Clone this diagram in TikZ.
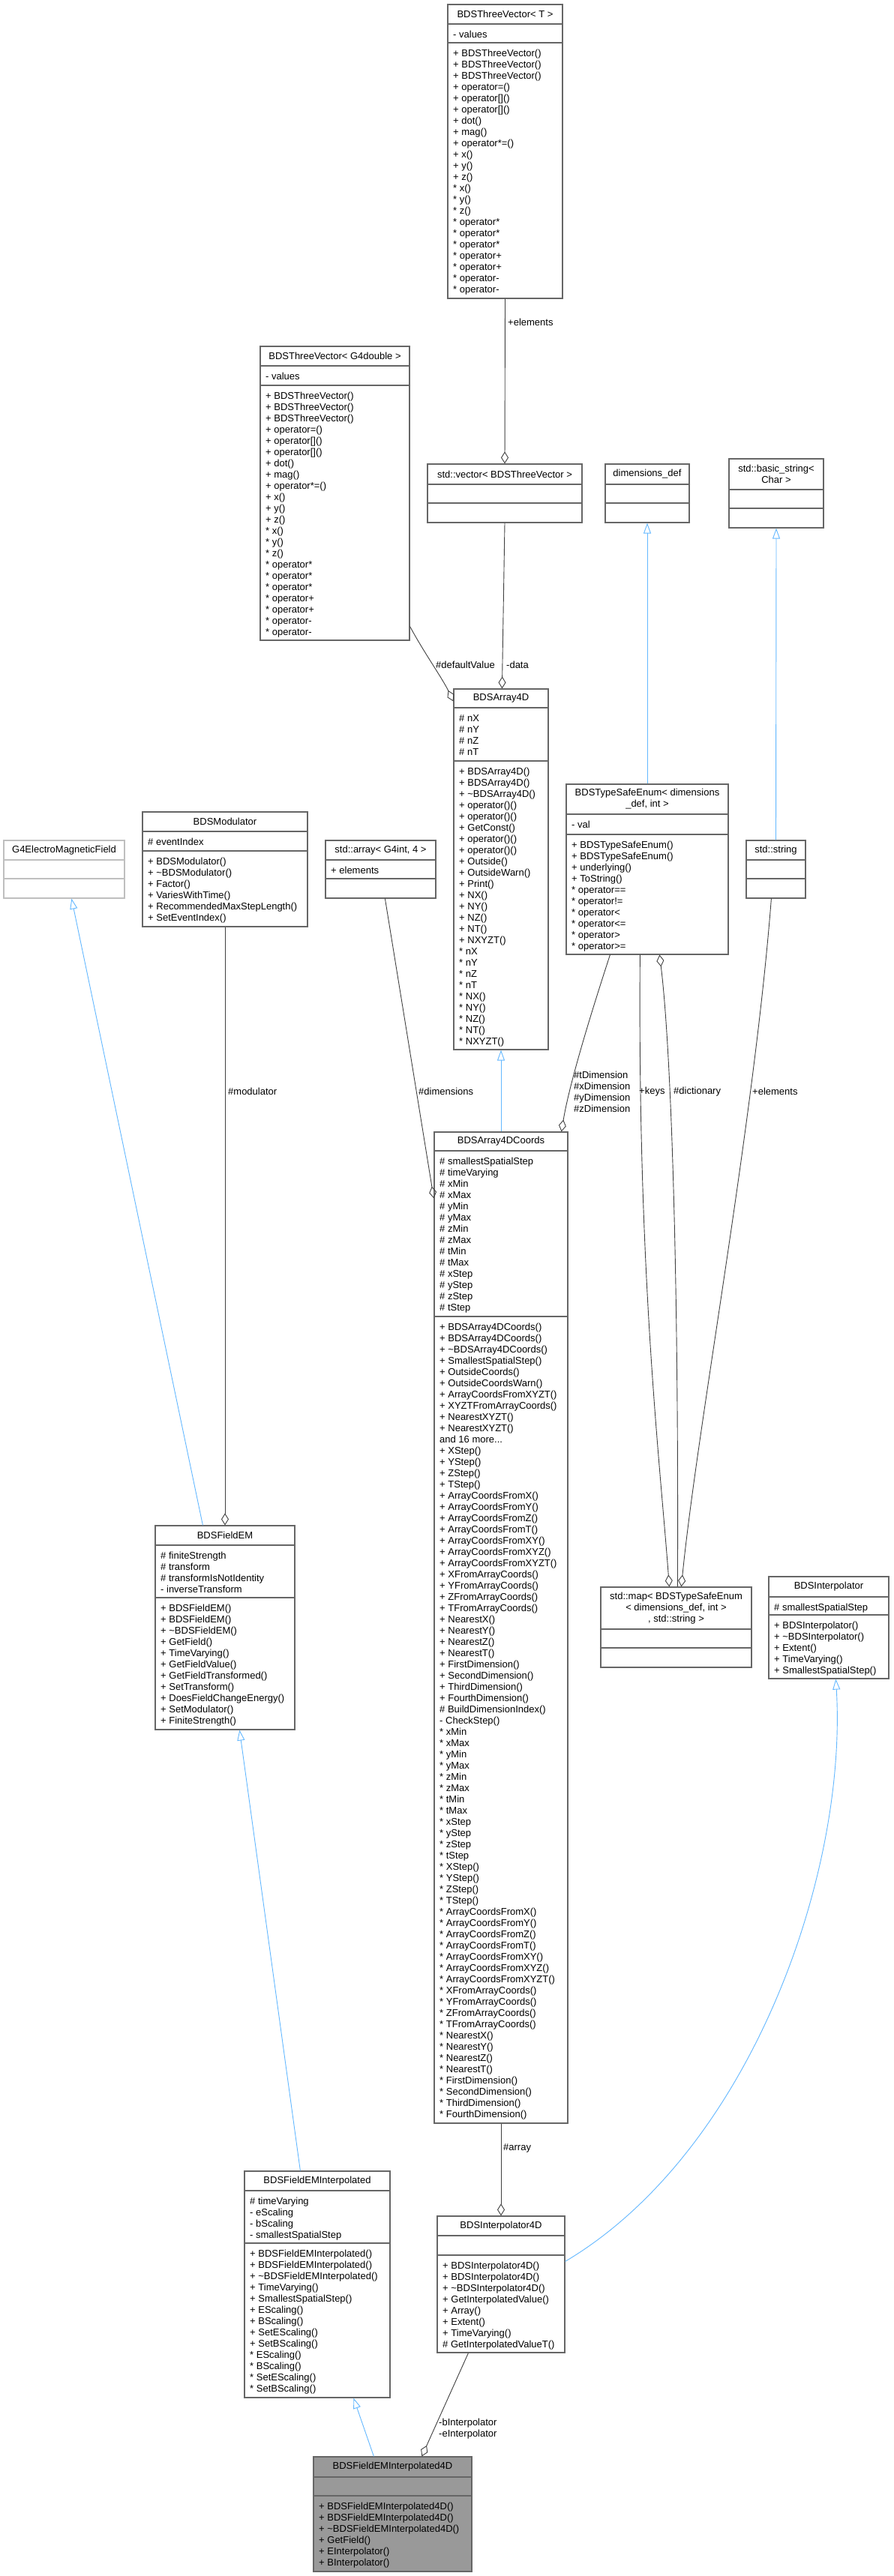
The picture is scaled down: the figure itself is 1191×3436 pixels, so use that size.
\documentclass[tikz,border=0pt]{standalone}
\usepackage{fontspec}
\setmainfont{Liberation Sans}
\usetikzlibrary{fit,arrows.meta}
\definecolor{bord}{HTML}{666666}
\definecolor{lbord}{HTML}{BFBFBF}
\definecolor{edge}{HTML}{404040}
\definecolor{inhc}{HTML}{63B8FF}
\definecolor{hl}{HTML}{999999}
\tikzset{
  box/.style={draw=bord, line width=1.2pt, inner sep=0pt},
  sep/.style={draw=bord, line width=1.2pt},
  txt/.style={inner sep=0pt, align=left, font=\fontsize{13}{15}\selectfont},
  ttl/.style={inner sep=0pt, align=center, font=\fontsize{13}{15}\selectfont},
  lbl/.style={inner sep=0pt, align=left, font=\fontsize{13}{15}\selectfont},
  agg/.style={draw=edge, line width=0.9pt, -{Diamond[open,length=16pt,width=10pt]}},
  inh/.style={draw=inhc, line width=0.9pt, -{Triangle[open,length=14pt,width=10pt]}},
}
\newcommand{\cls}[9]{%
  \def\curx{#2}\def\curya{#7}\def\curn{#1}%
  \node[box, fit={(#2,-#3)(#4,-#5)}] (#1) {};
  \draw[sep] (#2,-#6) -- (#4,-#6);
  \draw[sep] (#2,-#7) -- (#4,-#7);
  \node[ttl] (#1t) at ({(#2+#4)/2},{-(#3+#6)/2}) {#8};
  \node[txt, anchor=north west] (#1a) at ({#2+7},{-(#6+9)}) {#9};
}
\newcommand{\meth}[1]{\node[txt, anchor=north west] (\curn m) at ({\curx+7},{-(\curya+9)}) {#1};}
\newcommand{\tl}{\textasciitilde}
\begin{document}
\begin{tikzpicture}[x=1pt,y=1pt]
\useasboundingbox[fill=white] (0,0) rectangle (1191,-3436);

\cls{tvT}{597}{6}{750}{398}{32}{57}{BDSThreeVector< T >}{- values}
\meth{+ BDSThreeVector()\\+ BDSThreeVector()\\+ BDSThreeVector()\\+ operator=()\\+ operator[]()\\+ operator[]()\\+ dot()\\+ mag()\\+ operator*=()\\+ x()\\+ y()\\+ z()\\* x()\\* y()\\* z()\\* operator*\\* operator*\\* operator*\\* operator+\\* operator+\\* operator-\\* operator-}

\cls{g4d}{347}{462}{546}{854}{488}{514}{BDSThreeVector< G4double >}{- values}
\meth{+ BDSThreeVector()\\+ BDSThreeVector()\\+ BDSThreeVector()\\+ operator=()\\+ operator[]()\\+ operator[]()\\+ dot()\\+ mag()\\+ operator*=()\\+ x()\\+ y()\\+ z()\\* x()\\* y()\\* z()\\* operator*\\* operator*\\* operator*\\* operator+\\* operator+\\* operator-\\* operator-}

\cls{vec}{570}{619}{776}{697}{646}{671}{std::vector< BDSThreeVector >}{}
\cls{dim}{807}{619}{919}{697}{646}{671}{dimensions\_def}{}
\cls{bstr}{972}{612}{1098}{704}{653}{678}{std::basic\_string<\\Char >}{}

\cls{a4d}{605}{919}{731}{1400}{944}{1015}{BDSArray4D}{\# nX\\\# nY\\\# nZ\\\# nT}
\meth{+ BDSArray4D()\\+ BDSArray4D()\\+ \tl BDSArray4D()\\+ operator()()\\+ operator()()\\+ GetConst()\\+ operator()()\\+ operator()()\\+ Outside()\\+ OutsideWarn()\\+ Print()\\+ NX()\\+ NY()\\+ NZ()\\+ NT()\\+ NXYZT()\\* nX\\* nY\\* nZ\\* nT\\* NX()\\* NY()\\* NZ()\\* NT()\\* NXYZT()}

\cls{mod}{190}{1083}{410}{1236}{1109}{1135}{BDSModulator}{\# eventIndex}
\meth{+ BDSModulator()\\+ \tl BDSModulator()\\+ Factor()\\+ VariesWithTime()\\+ RecommendedMaxStepLength()\\+ SetEventIndex()}

\node[draw=lbord, line width=1.2pt, inner sep=0pt, fit={(5,-1121)(166,-1198)}] (g4) {};
\draw[draw=lbord, line width=1.2pt] (5,-1147) -- (166,-1147);
\draw[draw=lbord, line width=1.2pt] (5,-1172) -- (166,-1172);
\node[ttl] (g4t) at (85.5,-1134) {G4ElectroMagneticField};

\cls{arr}{434}{1121}{581}{1198}{1147}{1172}{std::array< G4int, 4 >}{+ elements}

\cls{tse}{755}{1046}{971}{1273}{1086}{1113}{BDSTypeSafeEnum< dimensions\\\_def, int >}{- val}
\meth{+ BDSTypeSafeEnum()\\+ BDSTypeSafeEnum()\\+ underlying()\\+ ToString()\\* operator==\\* operator!=\\* operator<\\* operator<=\\* operator>\\* operator>=}

\cls{str}{995}{1121}{1074}{1198}{1147}{1172}{std::string}{}

\cls{coords}{579}{1510}{757}{2832}{1535}{1756}{BDSArray4DCoords}{\# smallestSpatialStep\\\# timeVarying\\\# xMin\\\# xMax\\\# yMin\\\# yMax\\\# zMin\\\# zMax\\\# tMin\\\# tMax\\\# xStep\\\# yStep\\\# zStep\\\# tStep}
\meth{+ BDSArray4DCoords()\\+ BDSArray4DCoords()\\+ \tl BDSArray4DCoords()\\+ SmallestSpatialStep()\\+ OutsideCoords()\\+ OutsideCoordsWarn()\\+ ArrayCoordsFromXYZT()\\+ XYZTFromArrayCoords()\\+ NearestXYZT()\\+ NearestXYZT()\\and 16 more...\\+ XStep()\\+ YStep()\\+ ZStep()\\+ TStep()\\+ ArrayCoordsFromX()\\+ ArrayCoordsFromY()\\+ ArrayCoordsFromZ()\\+ ArrayCoordsFromT()\\+ ArrayCoordsFromXY()\\+ ArrayCoordsFromXYZ()\\+ ArrayCoordsFromXYZT()\\+ XFromArrayCoords()\\+ YFromArrayCoords()\\+ ZFromArrayCoords()\\+ TFromArrayCoords()\\+ NearestX()\\+ NearestY()\\+ NearestZ()\\+ NearestT()\\+ FirstDimension()\\+ SecondDimension()\\+ ThirdDimension()\\+ FourthDimension()\\\# BuildDimensionIndex()\\- CheckStep()\\* xMin\\* xMax\\* yMin\\* yMax\\* zMin\\* zMax\\* tMin\\* tMax\\* xStep\\* yStep\\* zStep\\* tStep\\* XStep()\\* YStep()\\* ZStep()\\* TStep()\\* ArrayCoordsFromX()\\* ArrayCoordsFromY()\\* ArrayCoordsFromZ()\\* ArrayCoordsFromT()\\* ArrayCoordsFromXY()\\* ArrayCoordsFromXYZ()\\* ArrayCoordsFromXYZT()\\* XFromArrayCoords()\\* YFromArrayCoords()\\* ZFromArrayCoords()\\* TFromArrayCoords()\\* NearestX()\\* NearestY()\\* NearestZ()\\* NearestT()\\* FirstDimension()\\* SecondDimension()\\* ThirdDimension()\\* FourthDimension()}

\cls{fem}{207}{2035}{393}{2307}{2061}{2131}{BDSFieldEM}{\# finiteStrength\\\# transform\\\# transformIsNotIdentity\\- inverseTransform}
\meth{+ BDSFieldEM()\\+ BDSFieldEM()\\+ \tl BDSFieldEM()\\+ GetField()\\+ TimeVarying()\\+ GetFieldValue()\\+ GetFieldTransformed()\\+ SetTransform()\\+ DoesFieldChangeEnergy()\\+ SetModulator()\\+ FiniteStrength()}

\cls{map}{801}{2117}{1002}{2224}{2173}{2198}{std::map< BDSTypeSafeEnum\\< dimensions\_def, int >\\, std::string >}{}

\cls{interp}{1025}{2103}{1185}{2239}{2130}{2154}{BDSInterpolator}{\# smallestSpatialStep}
\meth{+ BDSInterpolator()\\+ \tl BDSInterpolator()\\+ Extent()\\+ TimeVarying()\\+ SmallestSpatialStep()}

\cls{femi}{326}{2896}{520}{3198}{2922}{2992}{BDSFieldEMInterpolated}{\# timeVarying\\- eScaling\\- bScaling\\- smallestSpatialStep}
\meth{+ BDSFieldEMInterpolated()\\+ BDSFieldEMInterpolated()\\+ \tl BDSFieldEMInterpolated()\\+ TimeVarying()\\+ SmallestSpatialStep()\\+ EScaling()\\+ BScaling()\\+ SetEScaling()\\+ SetBScaling()\\* EScaling()\\* BScaling()\\* SetEScaling()\\* SetBScaling()}

\cls{i4d}{583}{2956}{753}{3138}{2982}{3008}{BDSInterpolator4D}{}
\meth{+ BDSInterpolator4D()\\+ BDSInterpolator4D()\\+ \tl BDSInterpolator4D()\\+ GetInterpolatedValue()\\+ Array()\\+ Extent()\\+ TimeVarying()\\\# GetInterpolatedValueT()}

\fill[hl] (418,-3277) rectangle (629,-3430);
\cls{f4d}{418}{3277}{629}{3430}{3304}{3329}{BDSFieldEMInterpolated4D}{}
\meth{+ BDSFieldEMInterpolated4D()\\+ BDSFieldEMInterpolated4D()\\+ \tl BDSFieldEMInterpolated4D()\\+ GetField()\\+ EInterpolator()\\+ BInterpolator()}

% connectors
\draw[agg] (tvT.south) -- (vec.north);
\node[lbl, anchor=west] (l1) at (677,-430) {+elements};
\draw[agg] ([yshift=19pt]g4d.south east) .. controls (565,-870) and (590,-905) .. ([yshift=-17pt]a4d.north west);
\node[lbl, anchor=west] (l2) at (581,-887) {\#defaultValue};
\draw[agg] (vec.south) -- ([xshift=65pt]a4d.north west);
\node[lbl, anchor=west] (l3) at (675,-887) {-data};
\draw[inh] (tse.north) -- (dim.south);
\draw[inh] (str.north) -- (bstr.south);
\draw[inh] (coords.north) -- (a4d.south);
\draw[agg] ([xshift=80pt]arr.south west) -- ([yshift=-89pt]coords.north west);
\node[lbl, anchor=west] (l4) at (558,-1456) {\#dimensions};
\draw[agg] ([xshift=59pt]tse.south west) .. controls (795,-1330) and (760,-1440) .. ([xshift=-9pt]coords.north east);
\node[lbl, anchor=west] (l5) at (765,-1456) {\#tDimension\\\#xDimension\\\#yDimension\\\#zDimension};
\draw[agg] ([xshift=99pt]tse.south west) .. controls (850,-1700) and (880,-1950) .. ([xshift=92pt]map.north west);
\node[lbl, anchor=west] (l6) at (852,-1456) {+keys};
\draw[agg] ([xshift=103pt]map.north west) .. controls (905,-1700) and (895,-1400) .. ([xshift=125pt]tse.south west);
\node[lbl, anchor=west] (l7) at (898,-1456) {\#dictionary};
\draw[agg] ([xshift=34pt]str.south west) .. controls (1005,-1500) and (930,-1900) .. ([xshift=108pt]map.north west);
\node[lbl, anchor=west] (l8) at (1003,-1456) {+elements};
\draw[agg] (mod.south) -- (fem.north);
\node[lbl, anchor=west] (l9) at (304,-1456) {\#modulator};
\draw[inh] ([xshift=64pt]fem.north west) -- ([xshift=91pt]g4.south west);
\draw[inh] ([xshift=75pt]femi.north west) -- ([xshift=113pt]fem.south west);
\draw[agg] (coords.south) -- (i4d.north);
\node[lbl, anchor=west] (l10) at (671,-2865) {\#array};
\draw[inh] ([yshift=-61pt]i4d.north east) .. controls (1000,-2870) and (1130,-2500) .. ([xshift=90pt]interp.south west);
\draw[inh] ([xshift=81pt]f4d.north west) -- ([xshift=146pt]femi.south west);
\draw[agg] ([xshift=42pt]i4d.south west) -- ([xshift=145pt]f4d.north west);
\node[lbl, anchor=west] (l11) at (585,-3240) {-bInterpolator\\-eInterpolator};
\end{tikzpicture}
\end{document}
